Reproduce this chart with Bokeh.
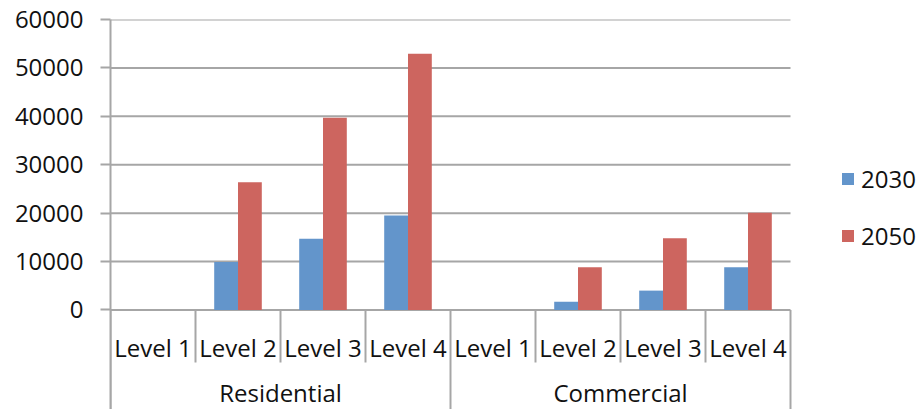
from bokeh.plotting import figure
from bokeh.models import Range1d, FixedTicker, Legend, LegendItem, ColumnDataSource
from bokeh.core.properties import value
from bokeh.transform import dodge
from bokeh.embed import file_html
from bokeh.resources import INLINE

groups = ["Residential", "Commercial"]
levels = ["Level 1", "Level 2", "Level 3", "Level 4"]
series = ["2030", "2050"]
values_2030 = [0, 9900, 14700, 19500, 0, 1700, 4000, 8850]
values_2050 = [0, 26400, 39700, 52900, 0, 8850, 14800, 20100]
y_ticks = [0, 10000, 20000, 30000, 40000, 50000, 60000]

BLUE = "#6395CB"
RED = "#CD655F"
GRAY = "#A6A6A6"
FONT = "Open Sans"
FS = "24px"

n_cat = len(groups) * len(levels)
centers = [i + 0.5 for i in range(n_cat)]
bw = 0.28
PX_PER_CAT = 85
FRAME_W = 811

p = figure(width=921, height=409, output_backend="svg", toolbar_location=None,
           x_range=Range1d(0, FRAME_W / PX_PER_CAT), y_range=Range1d(-20557, 60000),
           min_border_left=110, min_border_right=0, min_border_top=19, min_border_bottom=0)
p.outline_line_color = None
p.background_fill_color = "white"
p.xaxis.visible = False
p.xgrid.visible = False
p.ygrid.visible = False

yax = p.yaxis[0]
yax.ticker = FixedTicker(ticks=y_ticks)
yax.axis_line_color = GRAY
yax.axis_line_width = 2
yax.major_tick_line_color = GRAY
yax.major_tick_line_width = 2
yax.major_tick_out = 10
yax.major_tick_in = 0
yax.minor_tick_line_color = None
yax.major_label_standoff = 17
yax.major_label_text_font = FONT
yax.major_label_text_font_size = FS
yax.major_label_text_color = "#111111"

# horizontal gridlines spanning only the category area
p.segment(x0=[0] * len(y_ticks), x1=[n_cat] * len(y_ticks), y0=y_ticks, y1=y_ticks,
          line_color=GRAY, line_width=2)

src = ColumnDataSource(dict(x=centers, v30=values_2030, v50=values_2050))
r30 = p.vbar(x=dodge("x", -bw / 2), top="v30", bottom=0, width=bw, source=src,
             fill_color=BLUE, line_color=None)
r50 = p.vbar(x=dodge("x", bw / 2), top="v50", bottom=0, width=bw, source=src,
             fill_color=RED, line_color=None)

# category separators
lvl_sep_x = [i for i in range(1, n_cat) if i % len(levels) != 0]
grp_sep_x = [i * len(levels) for i in range(len(groups) + 1)]
p.segment(x0=lvl_sep_x, x1=lvl_sep_x, y0=[0] * len(lvl_sep_x), y1=[-10847] * len(lvl_sep_x),
          line_color=GRAY, line_width=2)
p.segment(x0=grp_sep_x, x1=grp_sep_x, y0=[0] * len(grp_sep_x), y1=[-20557] * len(grp_sep_x),
          line_color=GRAY, line_width=2)

level_labels = [lv for g in groups for lv in levels]
p.text(x=centers, y=[-7748] * n_cat, text=level_labels, text_align="center", text_baseline="middle",
       text_font=value(FONT), text_font_size=FS, text_color="#111111")
grp_centers = [(i + 0.5) * len(levels) for i in range(len(groups))]
p.text(x=grp_centers, y=[-17000] * len(groups), text=groups, text_align="center",
       text_baseline="middle", text_font=value(FONT), text_font_size=FS, text_color="#111111")

legend = Legend(items=[LegendItem(label=series[0], renderers=[r30]),
                       LegendItem(label=series[1], renderers=[r50])],
                location=(730, 157), orientation="vertical")
legend.border_line_color = None
legend.background_fill_color = None
legend.padding = 0
legend.margin = 0
legend.glyph_width = 15
legend.glyph_height = 15
legend.label_height = 30
legend.spacing = 24
legend.label_standoff = 6
legend.label_text_font = FONT
legend.label_text_font_size = FS
legend.label_text_color = "#111111"
p.add_layout(legend)

open("out.html", "w").write(file_html(p, INLINE))
